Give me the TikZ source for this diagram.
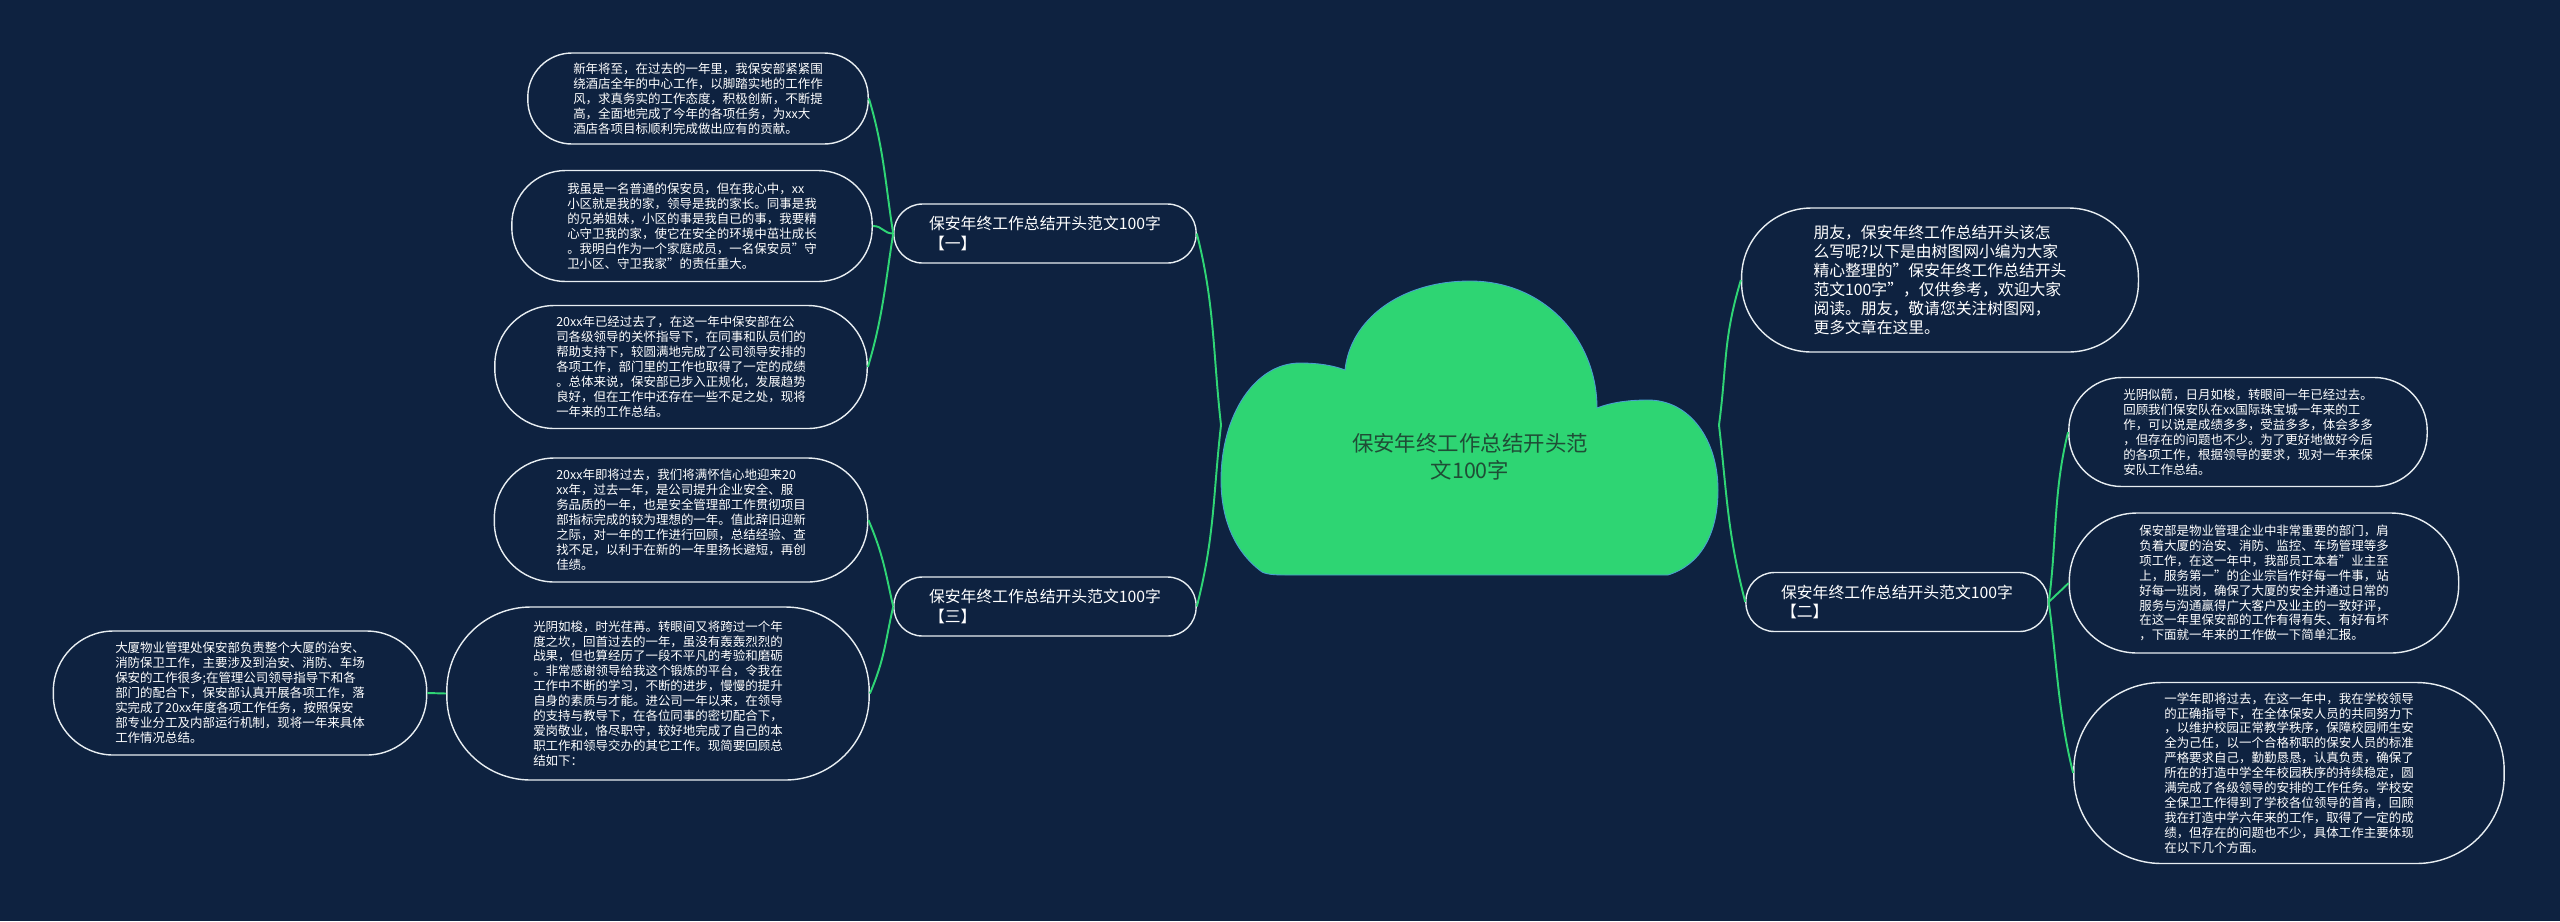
\documentclass[tikz,border=0pt]{standalone}
\usepackage{fontspec}
\setmainfont{Noto Sans CJK SC}
\usepackage{tikz}
\usetikzlibrary{calc}
\definecolor{bgnavy}{HTML}{0E2240}
\definecolor{linkgreen}{HTML}{2FD575}
\definecolor{cloudgreen}{HTML}{2ED573}
\definecolor{cloudedge}{HTML}{4A9FD0}
\definecolor{roottext}{HTML}{1F4D36}
\definecolor{boxline}{HTML}{E8EEF2}
\tikzset{leaf/.style={rectangle, draw=boxline, line width=0.8pt, text=white, align=left, minimum height=#1*0.02cm, rounded corners=#1*0.0097cm, inner xsep=#1*0.01cm, inner ysep=2pt, font=\fontsize{7.1}{8.5}\selectfont},
    topic/.style={leaf=#1, font=\fontsize{9}{11.3}\selectfont},
    link/.style={draw=linkgreen, line width=1.1pt}}

\begin{document}
\begin{tikzpicture}[x=0.02cm, y=-0.02cm]
    \fill[bgnavy] (0,0) rectangle (2560,921);
    \useasboundingbox (0,0) rectangle (2560,921);
    % cloud
    \filldraw[fill=cloudgreen, draw=cloudedge, line width=0.5pt] (1262,572) .. controls (1232,550) and (1221,515) .. (1221,480)
        .. controls (1221,415) and (1255,363) .. (1300,363)
        .. controls (1320,363) and (1335,366) .. (1345,370)
        .. controls (1350,320) and (1400,281) .. (1470,281)
        .. controls (1545,281) and (1597,340) .. (1597,408)
        .. controls (1612,402) and (1630,400) .. (1648,400)
        .. controls (1690,400) and (1718,440) .. (1718,490)
        .. controls (1718,535) and (1700,565) .. (1668,575)
        -- (1290,575) .. controls (1278,575) and (1268,575) .. (1262,572) -- cycle;
    \node[text=roottext, align=center, font=\fontsize{12.2}{15.3}\selectfont] (root) at (1470,457) {保安年终工作总结开头范\\文100字};
    \coordinate (cloudL) at (1221,425);
    \coordinate (cloudR) at (1719,425);

    \node[topic=59, inner xsep=20pt] (topicA) at (1045,233.5) {保安年终工作总结开头范文100字\\【一】};
    \node[topic=59, inner xsep=20pt] (topicC) at (1045,606.5) {保安年终工作总结开头范文100字\\【三】};
    \node[topic=59, inner xsep=20pt] (topicB) at (1897,602) {保安年终工作总结开头范文100字\\【二】};
    \node[topic=144, font=\fontsize{9}{10.9}\selectfont] (intro) at (1940,280) {朋友，保安年终工作总结开头该怎\\么写呢?以下是由树图网小编为大家\\精心整理的"保安年终工作总结开头\\范文100字"，仅供参考，欢迎大家\\阅读。朋友，敬请您关注树图网，\\更多文章在这里。};

    \node[leaf=91] (leafA1) at (698,98.5) {新年将至，在过去的一年里，我保安部紧紧围\\绕酒店全年的中心工作，以脚踏实地的工作作\\风，求真务实的工作态度，积极创新，不断提\\高，全面地完成了今年的各项任务，为xx大\\酒店各项目标顺利完成做出应有的贡献。};
    \node[leaf=111] (leafA2) at (692,226) {我虽是一名普通的保安员，但在我心中，xx\\小区就是我的家，领导是我的家长。同事是我\\的兄弟姐妹，小区的事是我自已的事，我要精\\心守卫我的家，使它在安全的环境中茁壮成长\\。我明白作为一个家庭成员，一名保安员"守\\卫小区、守卫我家"的责任重大。};
    \node[leaf=123] (leafA3) at (681,367) {20xx年已经过去了，在这一年中保安部在公\\司各级领导的关怀指导下，在同事和队员们的\\帮助支持下，较圆满地完成了公司领导安排的\\各项工作，部门里的工作也取得了一定的成绩\\。总体来说，保安部已步入正规化，发展趋势\\良好，但在工作中还存在一些不足之处，现将\\一年来的工作总结。};
    \node[leaf=124] (leafC1) at (681,520) {20xx年即将过去，我们将满怀信心地迎来20\\xx年，过去一年，是公司提升企业安全、服\\务品质的一年，也是安全管理部工作贯彻项目\\部指标完成的较为理想的一年。值此辞旧迎新\\之际，对一年的工作进行回顾，总结经验、查\\找不足，以利于在新的一年里扬长避短，再创\\佳绩。};
    \node[leaf=173] (leafC2) at (658,693.5) {光阴如梭，时光荏苒。转眼间又将跨过一个年\\度之坎，回首过去的一年，虽没有轰轰烈烈的\\战果，但也算经历了一段不平凡的考验和磨砺\\。非常感谢领导给我这个锻炼的平台，令我在\\工作中不断的学习，不断的进步，慢慢的提升\\自身的素质与才能。进公司一年以来，在领导\\的支持与教导下，在各位同事的密切配合下，\\爱岗敬业，恪尽职守，较好地完成了自己的本\\职工作和领导交办的其它工作。现简要回顾总\\结如下：};
    \node[leaf=124] (leafC3) at (240,693) {大厦物业管理处保安部负责整个大厦的治安、\\消防保卫工作，主要涉及到治安、消防、车场\\保安的工作很多;在管理公司领导指导下和各\\部门的配合下，保安部认真开展各项工作，落\\实完成了20xx年度各项工作任务，按照保安\\部专业分工及内部运行机制，现将一年来具体\\工作情况总结。};

    \node[leaf=109] (leafB1) at (2248,432) {光阴似箭，日月如梭，转眼间一年已经过去。\\回顾我们保安队在xx国际珠宝城一年来的工\\作，可以说是成绩多多，受益多多，体会多多\\，但存在的问题也不少。为了更好地做好今后\\的各项工作，根据领导的要求，现对一年来保\\安队工作总结。};
    \node[leaf=140] (leafB2) at (2264,583) {保安部是物业管理企业中非常重要的部门，肩\\负着大厦的治安、消防、监控、车场管理等多\\项工作，在这一年中，我部员工本着"业主至\\上，服务第一"的企业宗旨作好每一件事，站\\好每一班岗，确保了大厦的安全并通过日常的\\服务与沟通赢得广大客户及业主的一致好评，\\在这一年里保安部的工作有得有失、有好有坏\\，下面就一年来的工作做一下简单汇报。};
    \node[leaf=181] (leafB3) at (2289,773) {一学年即将过去，在这一年中，我在学校领导\\的正确指导下，在全体保安人员的共同努力下\\，以维护校园正常教学秩序，保障校园师生安\\全为己任，以一个合格称职的保安人员的标准\\严格要求自己，勤勤恳恳，认真负责，确保了\\所在的打造中学全年校园秩序的持续稳定，圆\\满完成了各级领导的安排的工作任务。学校安\\全保卫工作得到了学校各位领导的首肯，回顾\\我在打造中学六年来的工作，取得了一定的成\\绩，但存在的问题也不少，具体工作主要体现\\在以下几个方面。};

    \draw[link] (cloudL) .. controls +(-8,-70) and +(18,70) .. (topicA.east);
    \draw[link] (cloudL) .. controls +(-8,70) and +(18,-70) .. (topicC.east);
    \draw[link] (cloudR) .. controls +(8,-60) and +(-18,60) .. (intro.west);
    \draw[link] (cloudR) .. controls +(8,70) and +(-18,-70) .. (topicB.west);
    \draw[link] (topicA.west) .. controls +(-8,-50) and +(15,50) .. (leafA1.east);
    \draw[link] (topicA.west) .. controls +(-10,0) and +(10,0) .. (leafA2.east);
    \draw[link] (topicA.west) .. controls +(-8,50) and +(15,-50) .. (leafA3.east);
    \draw[link] (topicC.west) .. controls +(-8,-35) and +(15,35) .. (leafC1.east);
    \draw[link] (topicC.west) .. controls +(-8,35) and +(15,-35) .. (leafC2.east);
    \draw[link] (leafC2.west) -- (leafC3.east);
    \draw[link] (topicB.east) .. controls +(8,-60) and +(-15,60) .. (leafB1.west);
    \draw[link] (topicB.east) .. controls +(8,-8) and +(-8,8) .. (leafB2.west);
    \draw[link] (topicB.east) .. controls +(8,60) and +(-15,-60) .. (leafB3.west);
\end{tikzpicture}
\end{document}
